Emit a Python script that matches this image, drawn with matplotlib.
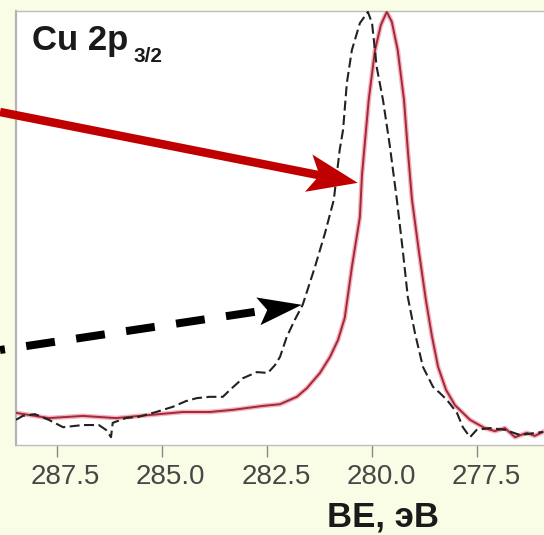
import numpy as np
import matplotlib
matplotlib.use('Agg')
import matplotlib.pyplot as plt
from matplotlib.lines import Line2D
from matplotlib.patches import Polygon
import matplotlib.transforms as mtransforms

plt.rcParams['lines.scale_dashes'] = False
plt.rcParams['font.family'] = ['Liberation Sans', 'DejaVu Sans']

# ---------------- data ----------------
be_red = [288.47, 287.69, 286.88, 286.09, 285.31, 284.50, 283.86, 283.31, 282.60,
          282.19, 281.79, 281.55, 281.24, 281.00, 280.81, 280.65, 280.48, 280.29,
          280.24, 280.08, 279.93, 279.79, 279.65, 279.53, 279.39, 279.24, 279.15,
          279.05, 278.89, 278.72, 278.58, 278.43, 278.24, 278.03, 277.67, 277.32,
          277.08, 276.84, 276.60, 276.32, 276.13, 275.94]
int_red = [0.074, 0.062, 0.067, 0.062, 0.069, 0.076, 0.076, 0.081, 0.090,
           0.094, 0.111, 0.131, 0.166, 0.203, 0.242, 0.293, 0.410, 0.525,
           0.622, 0.795, 0.910, 0.968, 0.998, 0.975, 0.910, 0.795, 0.680,
           0.565, 0.449, 0.334, 0.253, 0.180, 0.127, 0.092, 0.058, 0.039,
           0.032, 0.039, 0.018, 0.028, 0.021, 0.030]

be_black = [288.47, 288.31, 288.02, 287.69, 287.35, 286.88, 286.50, 286.33, 286.21,
            286.17, 285.86, 285.55, 285.14, 284.74, 284.43, 284.17, 283.86, 283.55,
            283.38, 283.07, 282.74, 282.48, 282.31, 282.19, 282.03, 281.84, 281.65,
            281.36, 281.12, 280.91, 280.77, 280.69, 280.60, 280.48, 280.29, 280.10,
            280.00, 279.89, 279.74, 279.58, 279.41, 279.27, 279.15, 278.98, 278.79,
            278.55, 278.39, 278.22, 277.98, 277.84, 277.67, 277.51, 277.20, 276.84,
            276.48, 275.94]
int_black = [0.058, 0.067, 0.071, 0.058, 0.041, 0.046, 0.046, 0.035, 0.018,
             0.051, 0.062, 0.065, 0.076, 0.088, 0.101, 0.108, 0.111, 0.111,
             0.127, 0.154, 0.168, 0.166, 0.184, 0.203, 0.249, 0.288, 0.323,
             0.410, 0.488, 0.565, 0.680, 0.726, 0.834, 0.910, 0.972, 0.998,
             0.972, 0.871, 0.795, 0.691, 0.565, 0.449, 0.341, 0.258, 0.180,
             0.134, 0.120, 0.104, 0.074, 0.041, 0.018, 0.035, 0.039, 0.035,
             0.023, 0.030]

tick_values = [287.5, 285.0, 282.5, 280.0, 277.5]
tick_labels = ['287.5', '285.0', '282.5', '280.0', '277.5']
x_range = (288.47, 275.91)
title_main = 'Cu 2p'
title_sub = '3/2'
x_label = 'BE, эВ'

red_arrow_tip = (280.34, 0.604)     # points at the solid curve
black_arrow_tip = (281.67, 0.323)   # points at the dashed curve

# ---------------- figure ----------------
fig = plt.figure(figsize=(5.44, 5.35), dpi=100, facecolor='#fafde6')
W, H = 544.0, 535.0
ax = fig.add_axes([16 / W, (H - 445) / H, (W - 16) / W, (445 - 11) / H], facecolor='white')

ax.plot(be_red, int_red, color='#f3b5bd', lw=3.4, zorder=2, solid_joinstyle='round')
ax.plot(be_red, int_red, color='#a3283a', lw=1.4, zorder=3, solid_joinstyle='round')
ax.plot(be_black, int_black, color='#222222', lw=1.5, dashes=(7.2, 3.2), zorder=4)

ax.set_xlim(*x_range)
ax.set_ylim(0, 1.0)
ax.set_xticks(tick_values)
ax.set_xticklabels(tick_labels)
ax.set_yticks([])
ax.tick_params(axis='x', direction='out', length=8.5, width=1.0, color='#8a8a8a',
               labelsize=20, labelcolor='#474747', pad=5)
offset = mtransforms.ScaledTranslation(9 / 100, 0, fig.dpi_scale_trans)
for lab in ax.get_xticklabels():
    lab.set_transform(lab.get_transform() + offset)

ax.spines['right'].set_visible(False)
ax.spines['left'].set_color('#b4b4b4')
ax.spines['left'].set_linewidth(1.6)
ax.spines['top'].set_color('#bdbdbd')
ax.spines['top'].set_linewidth(1.0)
ax.spines['bottom'].set_color('#bdbdbd')
ax.spines['bottom'].set_linewidth(1.0)

# title-like label
fig.text(32 / W, (H - 50) / H, title_main, fontsize=25, fontweight='bold',
         color='#1a1a1a', ha='left', va='baseline')
fig.text(134 / W, (H - 62) / H, title_sub, fontsize=15, fontweight='bold',
         color='#1a1a1a', ha='left', va='baseline')

# axis label
fig.text(383 / W, (H - 526) / H, x_label, fontsize=25, fontweight='bold',
         color='#1a1a1a', ha='center', va='baseline')


# ---------------- arrows ----------------
def draw_arrow(tip_data, tail_fig, color, width_px, head_len, head_hw, notch, dash=None):
    tip = np.array(ax.transData.transform(tip_data))
    tail = np.array(fig.transFigure.transform(tail_fig))
    d = tip - tail
    u = d / np.hypot(*d)
    n = np.array([-u[1], u[0]])
    base = tip - u * head_len
    inner = tip - u * (head_len - notch)
    inv = fig.transFigure.inverted()
    p0 = inv.transform(tail)
    p1 = inv.transform(inner + u * 2)
    kw = dict(color=color, lw=width_px * 0.72, transform=fig.transFigure,
              solid_capstyle='butt', dash_capstyle='butt', zorder=10)
    if dash is not None:
        kw['linestyle'] = dash
    fig.add_artist(Line2D([p0[0], p1[0]], [p0[1], p1[1]], **kw))
    pts = np.array([tip, base + n * head_hw, inner, base - n * head_hw])
    fig.add_artist(Polygon(inv.transform(pts), closed=True, facecolor=color,
                           edgecolor='none', transform=fig.transFigure, zorder=11))


draw_arrow(red_arrow_tip, (0.0, 1 - 112 / H), '#c00000', 8.5, 50, 19, 11)
draw_arrow(black_arrow_tip, (0.0, 1 - 350 / H), '#000000', 8.0, 44, 14, 9,
           dash=(24 * 0.72, (29 * 0.72, 21.5 * 0.72)))

fig.savefig('out.png', dpi=100, facecolor=fig.get_facecolor())
